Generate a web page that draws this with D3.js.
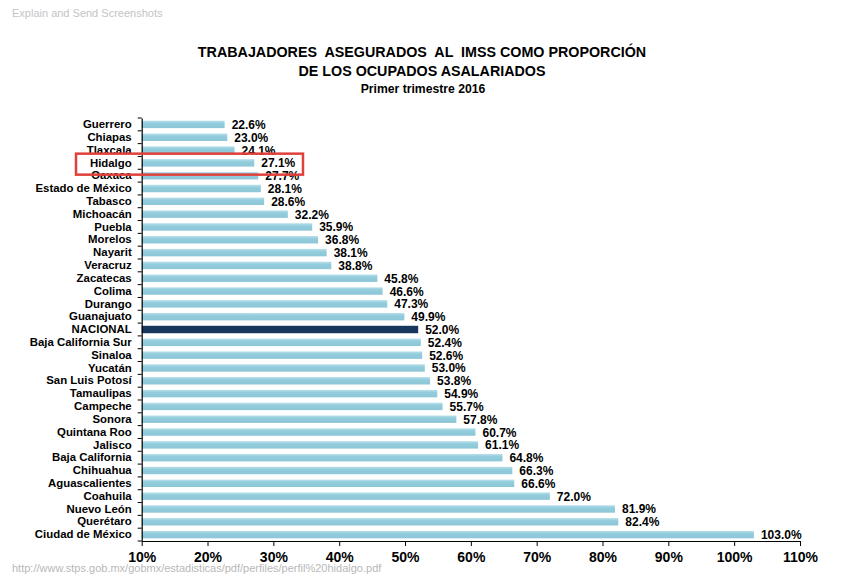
<!DOCTYPE html>
<html><head><meta charset="utf-8">
<script src="https://cdn.jsdelivr.net/npm/d3@7/dist/d3.min.js"></script>
<style>body{margin:0;background:#fff}svg{display:block}</style>
</head><body>
<svg id="c" width="865" height="583"></svg>
<script>
const categories = ["Guerrero","Chiapas","Tlaxcala","Hidalgo","Oaxaca","Estado de México","Tabasco","Michoacán","Puebla","Morelos","Nayarit","Veracruz","Zacatecas","Colima","Durango","Guanajuato","NACIONAL","Baja California Sur","Sinaloa","Yucatán","San Luis Potosí","Tamaulipas","Campeche","Sonora","Quintana Roo","Jalisco","Baja California","Chihuahua","Aguascalientes","Coahuila","Nuevo León","Querétaro","Ciudad de México"];
const values = [22.6,23.0,24.1,27.1,27.7,28.1,28.6,32.2,35.9,36.8,38.1,38.8,45.8,46.6,47.3,49.9,52.0,52.4,52.6,53.0,53.8,54.9,55.7,57.8,60.7,61.1,64.8,66.3,66.6,72.0,81.9,82.4,103.0];
const xTicks = [10,20,30,40,50,60,70,80,90,100,110];
const titleLines = ["TRABAJADORES  ASEGURADOS  AL  IMSS COMO PROPORCIÓN","DE LOS OCUPADOS ASALARIADOS"];
const subtitle = "Primer trimestre 2016";
const highlight = "Hidalgo";
const national = "NACIONAL";

const svg = d3.select("#c");
const font = "'Liberation Sans', Arial, sans-serif";
const x = d3.scaleLinear().domain([10,110]).range([141.7,800]);
const y = d3.scaleBand().domain(categories).range([118,541]).paddingInner(0.42).paddingOuter(0.21);

// watermark
svg.append("text").attr("x",13).attr("y",18).attr("font-family",font).attr("font-size",11)
  .attr("fill","#fff").text("Explain and Send Screenshots");
svg.append("text").attr("x",12).attr("y",17).attr("font-family",font).attr("font-size",11)
  .attr("fill","#c4c4c4").text("Explain and Send Screenshots");

// titles
const tg = svg.append("g").attr("font-family",font).attr("font-weight","bold").attr("text-anchor","middle").attr("fill","#000");
tg.append("text").attr("x",422).attr("y",57).attr("font-size",14.3).style("white-space","pre").text(titleLines[0]);
tg.append("text").attr("x",422).attr("y",76).attr("font-size",14.3).text(titleLines[1]);
tg.append("text").attr("x",423).attr("y",93).attr("font-size",12.2).text(subtitle);

// defs gradient
const defs = svg.append("defs");
const gr = defs.append("linearGradient").attr("id","gb").attr("x1",0).attr("y1",0).attr("x2",0).attr("y2",1);
gr.append("stop").attr("offset","0").attr("stop-color","#b9e0ea");
gr.append("stop").attr("offset","0.35").attr("stop-color","#93cddd");
gr.append("stop").attr("offset","1").attr("stop-color","#8cc6d7");

// bars
svg.append("g").selectAll("rect").data(categories).join("rect")
  .attr("x",x(10)).attr("y",d=>y(d)).attr("height",y.bandwidth())
  .attr("width",(d,i)=>x(values[i])-x(10))
  .attr("fill",d=>d===national?"#17375e":"url(#gb)");

// value labels
svg.append("g").attr("font-family",font).attr("font-weight","bold").attr("font-size",12).attr("fill","#000")
  .selectAll("text").data(categories).join("text")
  .attr("x",(d,i)=>x(values[i])+7).attr("y",d=>y(d)+y.bandwidth()/2+4.5)
  .text((d,i)=>values[i].toFixed(1)+"%");

// y axis
const ya = svg.append("g").attr("transform",`translate(${x(10)},0)`)
  .call(d3.axisLeft(y).tickSize(0).tickPadding(10));
ya.select(".domain").attr("stroke","#000").attr("stroke-width",1.2);
ya.selectAll("text").attr("font-family",font).attr("font-weight","bold").attr("font-size",11.4).attr("fill","#000");
// boundary ticks
const step = y.step();
const bounds = d3.range(categories.length+1).map(i=>118+i*step);
svg.append("g").selectAll("line").data(bounds).join("line")
  .attr("x1",x(10)-4).attr("x2",x(10)).attr("y1",d=>d).attr("y2",d=>d).attr("stroke","#000").attr("stroke-width",1);

// x axis
const xa = svg.append("g").attr("transform","translate(0,541)")
  .call(d3.axisBottom(x).tickValues(xTicks).tickFormat(d=>d+"%").tickSizeInner(5).tickSizeOuter(0).tickPadding(6));
xa.select(".domain").attr("stroke","#000").attr("stroke-width",1.2);
xa.selectAll(".tick line").attr("stroke","#000");
xa.selectAll("text").attr("font-family",font).attr("font-weight","bold").attr("font-size",14).attr("fill","#000");

// highlight box
svg.append("rect").attr("x",76).attr("y",y(highlight)-5.5).attr("width",227).attr("height",21)
  .attr("fill","none").attr("stroke","#e0403a").attr("stroke-width",2.5);

// url watermark
svg.append("text").attr("x",13).attr("y",573).attr("font-family",font).attr("font-size",11)
  .attr("fill","#fff").text("http://www.stps.gob.mx/gobmx/estadisticas/pdf/perfiles/perfil%20hidalgo.pdf");
svg.append("text").attr("x",12).attr("y",572).attr("font-family",font).attr("font-size",11)
  .attr("fill","#b8b8b8").text("http://www.stps.gob.mx/gobmx/estadisticas/pdf/perfiles/perfil%20hidalgo.pdf");
</script>
</body></html>
